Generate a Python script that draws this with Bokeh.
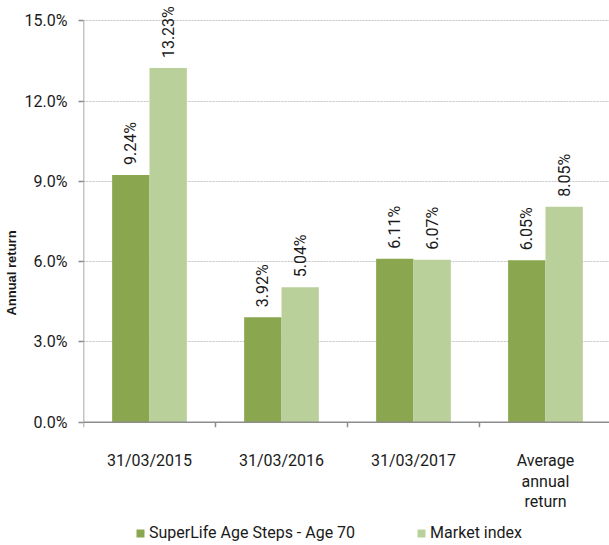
from math import pi
from bokeh.plotting import figure
from bokeh.models import (ColumnDataSource, FixedTicker, Legend, LegendItem,
                          PrintfTickFormatter, Range1d, LabelSet)
from bokeh.core.properties import value
from bokeh.embed import file_html
from bokeh.resources import INLINE

categories = ["31/03/2015", "31/03/2016", "31/03/2017", "Average\nannual\nreturn"]
superlife = [9.24, 3.92, 6.11, 6.05]
market = [13.23, 5.04, 6.07, 8.05]
series_names = ["SuperLife Age Steps - Age 70", "Market index"]
y_ticks = [0, 3, 6, 9, 12, 15]
colors = ["#8aa64e", "#bad09a"]

FONT = "Roboto"
FS = "16px"
TXT = "#1a1a1a"
AXC = "#8c8c8c"

W, H = 609, 545
LEFT = 81
X_END = 3.985
Y_START, Y_END = -4.606, 15.755
px_y = (Y_END - Y_START) / H  # data units per pixel (vertical)

centers = [i + 0.5 for i in range(len(categories))]
bounds = [float(i) for i in range(len(categories)) if i <= X_END]
bw = 0.283

p = figure(width=W, height=H, output_backend="svg", toolbar_location=None,
           x_range=Range1d(0, X_END), y_range=Range1d(Y_START, Y_END),
           x_axis_location=None,
           min_border_left=LEFT, min_border_right=0, min_border_top=0,
           min_border_bottom=0)
p.outline_line_color = None
p.background_fill_color = "white"

# grid
p.xgrid.visible = False
p.ygrid.ticker = FixedTicker(ticks=y_ticks[1:])
p.ygrid.grid_line_color = "#c4c4c4"
p.ygrid.grid_line_dash = "2 1"
p.ygrid.grid_line_width = 1

src1 = ColumnDataSource(dict(x=[c - bw / 2 for c in centers], top=superlife,
                             lab=[f"{v:.2f}%" for v in superlife]))
src2 = ColumnDataSource(dict(x=[c + bw / 2 for c in centers], top=market,
                             lab=[f"{v:.2f}%" for v in market]))
r1 = p.vbar(x="x", top="top", bottom=0, width=bw, source=src1,
            fill_color=colors[0], line_color=None)
r2 = p.vbar(x="x", top="top", bottom=0, width=bw, source=src2,
            fill_color=colors[1], line_color=None)

for src in (src1, src2):
    p.add_layout(LabelSet(x="x", y="top", text="lab", source=src, angle=pi / 2,
                          text_align="left", text_baseline="middle",
                          x_offset=0, y_offset=10,
                          text_font=value(FONT), text_font_size=FS,
                          text_color=TXT))

# x axis line, boundary ticks and category labels
p.segment(x0=[0], y0=[0], x1=[X_END], y1=[0], line_color=AXC, line_width=1.5)
p.segment(x0=[0], y0=[0], x1=[0], y1=[y_ticks[-1]], line_color=AXC, line_width=1.5)
p.segment(x0=bounds, y0=[0] * len(bounds), x1=bounds,
          y1=[-5 * px_y] * len(bounds), line_color=AXC, line_width=1.5)
p.text(x=centers, y=[0] * len(centers), text=categories, y_offset=29,
       text_align="center", text_baseline="top", text_font=value(FONT),
       text_font_size=FS, text_color=TXT, text_line_height=1.07)

# y axis
p.yaxis.ticker = FixedTicker(ticks=y_ticks)
p.yaxis.formatter = PrintfTickFormatter(format="%.1f%%")
p.yaxis.axis_line_color = None
p.yaxis.major_tick_line_color = AXC
p.yaxis.major_tick_line_width = 1.5
p.yaxis.major_tick_out = 5
p.yaxis.major_tick_in = 0
p.yaxis.minor_tick_line_color = None
p.yaxis.major_label_text_font = FONT
p.yaxis.major_label_text_font_size = FS
p.yaxis.major_label_text_color = TXT
p.yaxis.major_label_standoff = 11
p.yaxis.axis_label = "Annual return"
p.yaxis.axis_label_text_font = "Liberation Sans"
p.yaxis.axis_label_text_font_style = "bold"
p.yaxis.axis_label_text_font_size = "13px"
p.yaxis.axis_label_text_color = TXT
p.yaxis.axis_label_standoff = 3

legend = Legend(items=[LegendItem(label=series_names[0], renderers=[r1]),
                       LegendItem(label=series_names[1], renderers=[r2])],
                location=(52, 3), orientation="horizontal",
                glyph_width=10, glyph_height=10, label_standoff=4, spacing=61,
                padding=0, margin=0, border_line_color=None,
                background_fill_alpha=0, label_text_font=FONT,
                label_text_font_size=FS, label_text_color=TXT)
p.add_layout(legend)

open("out.html", "w").write(file_html(p, INLINE))
